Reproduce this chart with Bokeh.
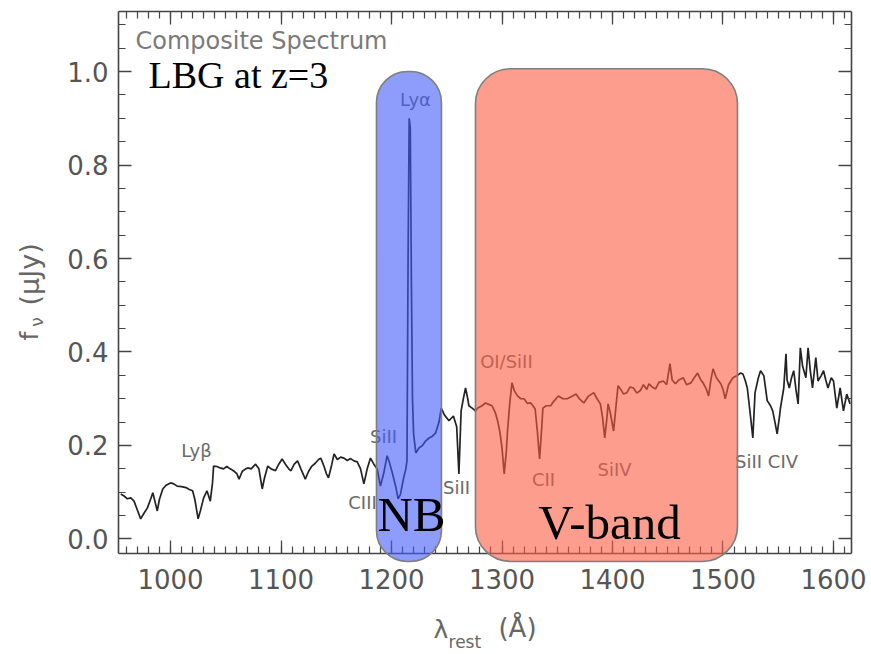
import math
from bokeh.plotting import figure
from bokeh.models import (Range1d, LinearAxis, SingleIntervalTicker, PrintfTickFormatter,
                          BoxAnnotation, Label, ColumnDataSource)
from bokeh.core.properties import value
from bokeh.embed import file_html
from bokeh.resources import INLINE

# ---- data: composite LBG spectrum (rest wavelength in Angstrom, flux in uJy) ----
wavelength = [
    955, 958, 961, 964, 967, 970, 973, 976, 979, 982, 984, 986, 988, 990, 993, 996,
    1000, 1003, 1006, 1010, 1014, 1017, 1020, 1022, 1025, 1027, 1030, 1033, 1036, 1038,
    1039, 1042, 1045, 1048, 1051, 1054, 1057, 1060, 1062, 1065, 1068, 1070, 1073, 1077,
    1080, 1083, 1085, 1088, 1091, 1095, 1098, 1101, 1104, 1107, 1109, 1112, 1115, 1118,
    1122, 1125, 1128, 1131, 1134, 1136, 1139, 1141, 1143, 1146, 1148, 1151, 1154, 1157,
    1160, 1163, 1166, 1169, 1172, 1175, 1178, 1181, 1184, 1187, 1190, 1193, 1196, 1198,
    1201, 1204, 1206, 1208, 1211, 1213, 1214, 1215, 1216, 1217, 1218, 1219, 1220, 1222,
    1225, 1228, 1231, 1234, 1237, 1240, 1243, 1245, 1248, 1252, 1256, 1259, 1261, 1263,
    1265, 1267, 1269, 1270, 1273, 1276, 1278, 1282, 1285, 1288, 1291, 1294, 1296, 1298,
    1300, 1302, 1304, 1305, 1307, 1309, 1311, 1314, 1317, 1320, 1323, 1326, 1328, 1330,
    1332, 1334, 1336, 1337, 1340, 1344, 1347, 1351, 1355, 1359, 1363, 1367, 1370, 1374,
    1378, 1383, 1386, 1389, 1391, 1393, 1395, 1396, 1398, 1401, 1403, 1405, 1408, 1410,
    1413, 1416, 1419, 1422, 1425, 1428, 1431, 1433, 1436, 1439, 1442, 1446, 1449, 1452,
    1454, 1457, 1460, 1464, 1467, 1471, 1474, 1477, 1480, 1482, 1485, 1487, 1489, 1491,
    1494, 1498, 1500, 1502, 1505, 1509, 1513, 1516, 1518, 1520, 1522, 1525, 1527, 1529,
    1532, 1534, 1537, 1540, 1543, 1545, 1547, 1549, 1551, 1552, 1555, 1557, 1558, 1560,
    1562, 1564, 1566, 1568, 1570, 1572, 1575, 1577, 1579, 1581, 1584, 1586, 1589, 1591,
    1593, 1595, 1598, 1600, 1603, 1606, 1609, 1612, 1615,
]
flux = [
    0.096, 0.092, 0.086, 0.088, 0.081, 0.062, 0.043, 0.055, 0.066, 0.085, 0.099, 0.080, 0.060, 0.085, 0.107, 0.115,
    0.120, 0.118, 0.113, 0.112, 0.110, 0.106, 0.103, 0.085, 0.043, 0.060, 0.088, 0.103, 0.081, 0.120,
    0.156, 0.155, 0.152, 0.150, 0.155, 0.150, 0.146, 0.140, 0.128, 0.145, 0.150, 0.152, 0.150, 0.160,
    0.150, 0.107, 0.130, 0.156, 0.150, 0.146, 0.160, 0.171, 0.160, 0.150, 0.146, 0.160, 0.167, 0.150,
    0.128, 0.145, 0.156, 0.162, 0.170, 0.173, 0.155, 0.140, 0.131, 0.160, 0.182, 0.170, 0.175, 0.173,
    0.168, 0.172, 0.167, 0.165, 0.150, 0.118, 0.150, 0.173, 0.160, 0.150, 0.113, 0.141, 0.178, 0.165,
    0.139, 0.110, 0.086, 0.095, 0.131, 0.150, 0.167, 0.600, 0.900, 0.880, 0.550, 0.300, 0.225, 0.184,
    0.195, 0.200, 0.210, 0.216, 0.220, 0.227, 0.250, 0.280, 0.265, 0.253, 0.263, 0.240, 0.139, 0.274,
    0.300, 0.323, 0.300, 0.285, 0.280, 0.274, 0.280, 0.285, 0.291, 0.288, 0.285, 0.270, 0.253, 0.230,
    0.195, 0.139, 0.190, 0.231, 0.290, 0.334, 0.318, 0.306, 0.300, 0.300, 0.290, 0.291, 0.285, 0.278,
    0.230, 0.171, 0.240, 0.280, 0.285, 0.285, 0.295, 0.306, 0.300, 0.300, 0.305, 0.310, 0.300, 0.291,
    0.305, 0.313, 0.300, 0.289, 0.260, 0.216, 0.260, 0.289, 0.270, 0.231, 0.280, 0.328, 0.318, 0.310,
    0.313, 0.325, 0.323, 0.312, 0.317, 0.330, 0.320, 0.332, 0.325, 0.321, 0.335, 0.338, 0.330, 0.375,
    0.340, 0.332, 0.340, 0.345, 0.330, 0.334, 0.345, 0.355, 0.340, 0.334, 0.320, 0.306, 0.340, 0.364,
    0.345, 0.332, 0.320, 0.300, 0.330, 0.345, 0.350, 0.355, 0.353, 0.340, 0.323, 0.260, 0.216, 0.313,
    0.345, 0.360, 0.349, 0.296, 0.285, 0.274, 0.250, 0.225, 0.260, 0.280, 0.323, 0.396, 0.340, 0.323,
    0.345, 0.360, 0.320, 0.289, 0.409, 0.370, 0.345, 0.409, 0.360, 0.323, 0.388, 0.338, 0.350, 0.360,
    0.340, 0.323, 0.345, 0.338, 0.280, 0.323, 0.274, 0.310, 0.289,
]

# spectral feature labels
line_names = ["Ly\u03b2", "SiII", "CIII", "Ly\u03b1", "SiII", "OI/SiII", "CII", "SiIV", "SiII CIV"]
line_x = [1023.5, 1192.8, 1173.8, 1221.7, 1258.8, 1304.0, 1337.6, 1401.8, 1539.4]
line_y = [0.189, 0.219, 0.078, 0.940, 0.110, 0.380, 0.127, 0.149, 0.166]

# filter bands (wavelength ranges)
band_names = ["NB", "V-band"]
band_left = [1186.4, 1276.0]
band_right = [1245.2, 1513.1]

# plotted axis extent
x_lo, x_hi = 952.94, 1616.29
y_lo, y_hi = -0.031, 1.1283

TICK_COLOR = "#444444"
LABEL_COLOR = "#555555"
FONT = "DejaVu Sans"

# the canvas frame spans the whole picture so the rounded band boxes and the
# axis titles can extend past the drawn axes; the axes are pinned to the data box
p = figure(width=871, height=654, output_backend="svg", toolbar_location=None,
           x_range=Range1d(846.15, 1634.39), y_range=Range1d(-0.2471, 1.1519),
           x_axis_location=None, y_axis_location=None,
           min_border_left=0, min_border_right=0, min_border_top=0, min_border_bottom=0)
p.outline_line_color = None
p.xgrid.visible = False
p.ygrid.visible = False
p.background_fill_color = "white"
p.border_fill_color = "white"


def style_axis(ax, show_labels):
    ax.axis_line_color = TICK_COLOR
    ax.axis_line_width = 1.6
    ax.major_tick_line_color = TICK_COLOR
    ax.minor_tick_line_color = TICK_COLOR
    ax.major_tick_line_width = 1.3
    ax.minor_tick_line_width = 1.2
    ax.major_tick_in = 13
    ax.major_tick_out = 0
    ax.minor_tick_in = 7
    ax.minor_tick_out = 0
    ax.major_label_text_font = FONT
    ax.major_label_text_font_size = "26px"
    if show_labels:
        ax.major_label_text_color = LABEL_COLOR
    else:
        ax.major_label_text_color = None


def xticker():
    return SingleIntervalTicker(interval=100, num_minor_ticks=10)


def yticker():
    return SingleIntervalTicker(interval=0.2, num_minor_ticks=4)


bottom = LinearAxis(ticker=xticker(), formatter=PrintfTickFormatter(format="%d"),
                    fixed_location=y_lo, bounds=(x_lo, x_hi))
style_axis(bottom, True)
bottom.major_label_standoff = 16
left = LinearAxis(ticker=yticker(), formatter=PrintfTickFormatter(format="%.1f"),
                  fixed_location=x_lo, bounds=(y_lo, y_hi))
style_axis(left, True)
left.major_label_standoff = 10
top = LinearAxis(ticker=xticker(), fixed_location=y_hi, bounds=(x_lo, x_hi))
style_axis(top, False)
right = LinearAxis(ticker=yticker(), fixed_location=x_hi, bounds=(y_lo, y_hi))
style_axis(right, False)

p.add_layout(bottom, "below")
p.add_layout(left, "left")
p.add_layout(top, "above")
p.add_layout(right, "right")

# spectrum
src = ColumnDataSource(data=dict(x=wavelength, y=flux))
p.line("x", "y", source=src, line_color="#222222", line_width=1.7)

# feature labels (drawn under the band boxes)
lsrc = ColumnDataSource(data=dict(x=line_x, y=line_y, t=line_names))
p.text("x", "y", text="t", source=lsrc, text_font=value(FONT), text_font_size="18px",
       text_color="#6a6a6a", text_align="center", text_baseline="alphabetic")
p.text(x=[968.3], y=[1.066], text=["Composite Spectrum"], text_font=value(FONT),
       text_font_size="24px", text_color="#7a7a7a", text_align="left", text_baseline="alphabetic")

# band boxes
band_fill = ["#425af9", "#fa5c43"]
band_top = [1.0, 1.006]
band_radius = [31, 35]
for i in range(2):
    box = BoxAnnotation(left=band_left[i], right=band_right[i], bottom=-0.048, top=band_top[i],
                        fill_color=band_fill[i], fill_alpha=0.6,
                        line_color="#7f7f7f", line_width=1.6, line_alpha=1.0,
                        border_radius=band_radius[i])
    p.add_layout(box)

band_label_x = [1218.1, 1397.3]
band_label_y = [0.053, 0.036]
for i in range(2):
    p.add_layout(Label(x=band_label_x[i], y=band_label_y[i], text=band_names[i],
                       text_font="Liberation Serif", text_font_size="49px", text_color="black",
                       text_align="center", text_baseline="alphabetic"))

p.add_layout(Label(x=980.1, y=0.993, text="LBG at z=3", text_font="Liberation Serif",
                   text_font_size="38px", text_color="black", text_align="left",
                   text_baseline="alphabetic"))

# axis titles (built from pieces to allow subscripts)
AX_COLOR = "#666666"
p.add_layout(Label(x=872.1, y=0.4246, text="f", angle=math.pi / 2, text_font=FONT,
                   text_font_size="25px", text_color=AX_COLOR, text_align="left",
                   text_baseline="alphabetic"))
p.add_layout(Label(x=879.0, y=0.454, text="\u03bd", angle=math.pi / 2, text_font=FONT,
                   text_font_size="17px", text_color=AX_COLOR, text_align="left",
                   text_baseline="alphabetic"))
p.add_layout(Label(x=872.4, y=0.4995, text="(\u03bcJy)", angle=math.pi / 2, text_font=FONT,
                   text_font_size="27px", text_color=AX_COLOR, text_align="left",
                   text_baseline="alphabetic"))
p.add_layout(Label(x=1238.0, y=-0.1931, text="\u03bb", text_font=FONT, text_font_size="25px",
                   text_color=AX_COLOR, text_align="left", text_baseline="alphabetic"))
p.add_layout(Label(x=1251.6, y=-0.2201, text="rest", text_font=FONT, text_font_size="17px",
                   text_color=AX_COLOR, text_align="left", text_baseline="alphabetic"))
p.add_layout(Label(x=1296.8, y=-0.1901, text="(\u00c5)", text_font=FONT, text_font_size="26px",
                   text_color=AX_COLOR, text_align="left", text_baseline="alphabetic"))

open("out.html", "w").write(file_html(p, INLINE))
